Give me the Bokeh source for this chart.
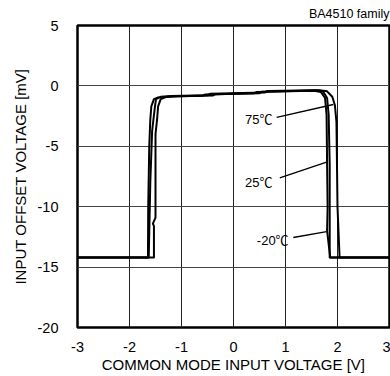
from bokeh.plotting import figure
from bokeh.models import Label
from bokeh.embed import file_html
from bokeh.resources import INLINE

# ---- data ----
x_ticks = [-3, -2, -1, 0, 1, 2, 3]
y_ticks = [-20, -15, -10, -5, 0, 5]
x_tick_labels = ["-3", "-2", "-1", "0", "1", "2", "3"]
y_tick_labels = ["-20", "-15", "-10", "-5", "0", "5"]

x_m20 = [-3, -1.645, -1.64, -1.62, -1.60, -1.58, -1.53, -1.45, -1.2, -0.6, -0.55, 0.5, 0.55,
         1.55, 1.68, 1.76, 1.79, 1.80, 1.81, 1.80, 1.86, 3]
y_m20 = [-14.2, -14.2, -10, -5, -2.8, -1.7, -1.1, -0.95, -0.88, -0.82, -0.72, -0.6, -0.48,
         -0.4, -0.5, -1.0, -2.4, -6.5, -10, -12, -14.2, -14.2]

x_25 = [-3, -1.63, -1.60, -1.565, -1.54, -1.51, -1.49, -1.40, -1.2, -0.5, -0.45, 0.6, 0.65,
        1.6, 1.72, 1.8, 1.83, 1.85, 1.85, 1.85, 3]
y_25 = [-14.2, -14.2, -8, -3.75, -2.8, -1.7, -1.1, -0.9, -0.84, -0.78, -0.66, -0.55, -0.42,
        -0.36, -0.45, -1.0, -2.4, -6.5, -10, -14.2, -14.2]

x_75 = [-3, -1.53, -1.53, -1.55, -1.50, -1.50, -1.47, -1.45, -1.40, -1.3, -1.1, -0.4, -0.35,
        0.4, 0.45, 1.65, 1.8, 1.9, 1.95, 1.98, 1.99, 2.0, 2.04, 3]
y_75 = [-14.2, -14.2, -11.6, -11.4, -10.9, -4, -2.8, -1.7, -1.1, -0.92, -0.85, -0.8, -0.7,
        -0.6, -0.5, -0.35, -0.45, -0.9, -1.6, -3, -6.5, -10, -14.2, -14.2]

series_labels = ["75\u2103", "25\u2103", "-20\u2103"]
# annotation placement (label anchor and leader line ends)
label_x = [0.75, 0.75, 1.06]
label_y = [-2.77, -8.0, -12.8]
lead_x0 = [0.83, 0.89, 1.15]
lead_y0 = [-2.61, -7.62, -12.55]
lead_x1 = [1.92, 1.79, 1.79]
lead_y1 = [-1.54, -6.31, -12.06]

FONT = "Liberation Sans"
LABEL_FONT = "Liberation Sans, Noto Sans CJK JP"

p = figure(width=390, height=376, x_range=(-3, 3), y_range=(-20, 5),
           output_backend="svg", toolbar_location=None,
           min_border_left=77, min_border_right=1, min_border_top=23, min_border_bottom=49)

p.title.text = "BA4510 family"
p.title.align = "right"
p.title.vertical_align = "bottom"
p.title.standoff = 9
p.title.text_font = FONT
p.title.text_font_size = "12.5px"
p.title.text_font_style = "normal"
p.title.text_color = "black"

p.background_fill_color = "white"
p.border_fill_color = "white"
p.outline_line_color = "black"
p.outline_line_width = 2.5

for ax in (p.xaxis[0], p.yaxis[0]):
    ax.axis_line_color = None
    ax.major_tick_line_color = None
    ax.minor_tick_line_color = None
    ax.major_label_text_font = FONT
    ax.major_label_text_font_size = "14.5px"
    ax.major_label_text_color = "black"
    ax.axis_label_text_font = FONT
    ax.axis_label_text_font_size = "15px"
    ax.axis_label_text_font_style = "normal"
    ax.axis_label_text_color = "black"

p.xaxis.ticker = x_ticks
p.yaxis.ticker = y_ticks
p.xaxis.major_label_overrides = dict(zip(x_ticks, x_tick_labels))
p.yaxis.major_label_overrides = dict(zip(y_ticks, y_tick_labels))
p.xaxis.major_label_standoff = 8
p.yaxis.major_label_standoff = 13
p.xaxis.axis_label = "COMMON MODE INPUT VOLTAGE [V]"
p.yaxis.axis_label = "INPUT OFFSET VOLTAGE [mV]"
p.xaxis.axis_label_standoff = 1
p.yaxis.axis_label_standoff = 6

p.xgrid.ticker = x_ticks
p.ygrid.ticker = y_ticks
p.xgrid.grid_line_color = "#222222"
p.ygrid.grid_line_color = "#444444"
p.xgrid.grid_line_width = 1
p.ygrid.grid_line_width = 1

for xs, ys in ((x_m20, y_m20), (x_25, y_25), (x_75, y_75)):
    p.line(xs, ys, line_width=2, color="black", line_join="round")

p.segment(lead_x0, lead_y0, lead_x1, lead_y1, line_width=1.3, color="black")

for t, lx, ly in zip(series_labels, label_x, label_y):
    p.add_layout(Label(x=lx, y=ly, text=t, text_align="right", text_baseline="middle",
                       text_font=LABEL_FONT, text_font_size="13px", text_color="black"))

open("out.html", "w").write(file_html(p, INLINE))
